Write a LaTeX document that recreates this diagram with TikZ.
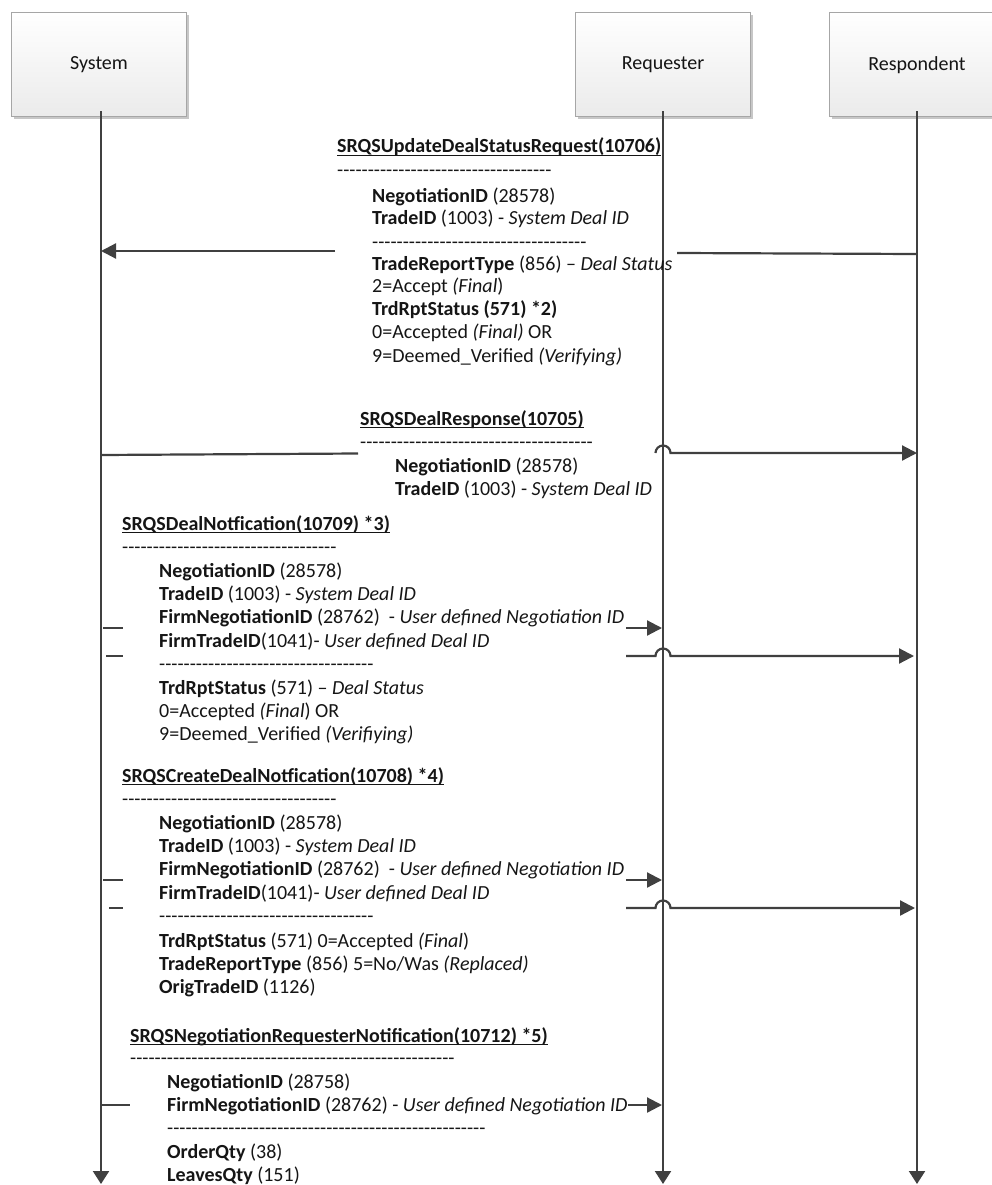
\documentclass[tikz,border=0pt]{standalone}
\usepackage{fontspec}
\setmainfont{Carlito}
\usetikzlibrary{arrows.meta,shadows}
\definecolor{ln}{HTML}{404040}
\definecolor{bx}{HTML}{A6A6A6}
\definecolor{tx}{HTML}{151515}
\newcount\hyc
\newcommand\hy[1]{\hyc=#1\relax\loop\hbox{-}\advance\hyc by -1\ifnum\hyc>0\repeat}
\newcommand\ulb[1]{\setbox0\hbox{\textbf{#1}}\rlap{\rule[-3.4pt]{\wd0}{1.3pt}}\box0}
\newcommand\fs{\fontsize{20}{23.6}\selectfont}
\begin{document}
\begin{tikzpicture}[x=1pt,y=-1pt,
  lbox/.style={draw=bx, line width=1pt, top color=white, bottom color=black!8,
    minimum width=175pt, minimum height=104pt, font=\fs, text=tx,
    drop shadow={shadow xshift=2.5pt, shadow yshift=-2.5pt, fill=black!22, opacity=1}},
  life/.style={draw=ln, line width=2.2pt, -{Triangle[length=13pt,width=16pt]}},
  msg/.style={draw=ln, line width=2.2pt},
  amsg/.style={msg, -{Triangle[length=15pt,width=15pt]}},
  txt/.style={anchor=base west, inner sep=0pt, font=\fs, text=tx}]
\useasboundingbox (0,0) rectangle (992,1185);
% participants
\node[lbox] (sys) at (99,65) {System};
\node[lbox] (req) at (663,65) {Requester};
\node[lbox] (res) at (917,65) {Respondent};
% lifelines
\coordinate (sysEnd) at (101,1184);
\coordinate (reqEnd) at (663,1184);
\coordinate (resEnd) at (917,1184);
\draw[life] (sys.south -| sysEnd) ++(0,-6) -- (sysEnd);
\draw[life] (req.south -| reqEnd) ++(0,-6) -- (reqEnd);
\draw[life] (res.south -| resEnd) ++(0,-6) -- (resEnd);

% ---------- block 1
\node[txt] (t1) at (337,153) {\ulb{SRQSUpdateDealStatusRequest(10706)}};
\node[txt] (t1a) at (337,177) {\hy{34}};
\node[txt] (t1b) at (372,202) {\textbf{NegotiationID} (28578)};
\node[txt] (t1c) at (372,224.5) {\textbf{TradeID} (1003) - \textit{System Deal ID}};
\node[txt] (t1d) at (372,248) {\hy{34}};
\node[txt] (t1e) at (372,270.5) {\textbf{TradeReportType} (856) – \textit{Deal Status}};
\node[txt] (t1f) at (372,292.5) {2=Accept \textit{(Final})};
\node[txt] (t1g) at (372,315.5) {\textbf{TrdRptStatus (571) *2)}};
\node[txt] (t1h) at (372,338.5) {0=Accepted \textit{(Final)} OR};
\node[txt] (t1i) at (372,362) {9=Deemed\_Verified \textit{(Verifying)}};
\coordinate (m1a) at (917,254);
\coordinate (m1b) at (677,253);
\coordinate (m1c) at (335,251);
\coordinate (m1d) at (101,251);
\draw[msg] (m1a) -- (m1b);
\draw[amsg] (m1c) -- (m1d);

% ---------- block 2
\node[txt] (t2) at (360,425) {\ulb{SRQSDealResponse(10705)}};
\node[txt] (t2a) at (360,448) {\hy{37}};
\node[txt] (t2b) at (395,472) {\textbf{NegotiationID} (28578)};
\node[txt] (t2c) at (395,495) {\textbf{TradeID} (1003) - \textit{System Deal ID}};
\coordinate (m2a) at (101,455);
\coordinate (m2b) at (358,453.5);
\coordinate (m2c) at (655.5,453);
\coordinate (m2d) at (917,453);
\draw[msg] (m2a) -- (m2b);
\draw[amsg] (m2c) arc[start angle=180, end angle=360, radius=7.5] -- (m2d);

% ---------- block 3
\node[txt] (t3) at (122,530) {\ulb{SRQSDealNotfication(10709) *3)}};
\node[txt] (t3a) at (122,553) {\hy{34}};
\node[txt] (t3b) at (159,577) {\textbf{NegotiationID} (28578)};
\node[txt] (t3c) at (159,600) {\textbf{TradeID} (1003) - \textit{System Deal ID}};
\node[txt] (t3d) at (159,623) {\textbf{FirmNegotiationID} (28762)\ \ - \textit{User defined Negotiation ID}};
\node[txt] (t3e) at (159,647) {\textbf{FirmTradeID}(1041)- \textit{User defined Deal ID}};
\node[txt] (t3f) at (159,670) {\hy{34}};
\node[txt] (t3g) at (159,694) {\textbf{TrdRptStatus} (571) – \textit{Deal Status}};
\node[txt] (t3h) at (159,717) {0=Accepted \textit{(Final}) OR};
\node[txt] (t3i) at (159,740) {9=Deemed\_Verified \textit{(Verifiying)}};
\coordinate (m3a) at (103,628);
\coordinate (m3b) at (123,628);
\coordinate (m3c) at (626,628);
\coordinate (m3d) at (662,628);
\draw[msg] (m3a) -- (m3b);
\draw[amsg] (m3c) -- (m3d);
\coordinate (m3e) at (106,656);
\coordinate (m3f) at (123,656);
\coordinate (m3g) at (626,656);
\coordinate (m3h) at (655.5,656);
\coordinate (m3i) at (914,656);
\draw[msg] (m3e) -- (m3f);
\draw[amsg] (m3g) -- (m3h) arc[start angle=180, end angle=360, radius=7.5] -- (m3i);

% ---------- block 4
\node[txt] (t4) at (122,782) {\ulb{SRQSCreateDealNotfication(10708) *4)}};
\node[txt] (t4a) at (122,805) {\hy{34}};
\node[txt] (t4b) at (159,829) {\textbf{NegotiationID} (28578)};
\node[txt] (t4c) at (159,852) {\textbf{TradeID} (1003) - \textit{System Deal ID}};
\node[txt] (t4d) at (159,875) {\textbf{FirmNegotiationID} (28762)\ \ - \textit{User defined Negotiation ID}};
\node[txt] (t4e) at (159,899) {\textbf{FirmTradeID}(1041)- \textit{User defined Deal ID}};
\node[txt] (t4f) at (159,922) {\hy{34}};
\node[txt] (t4g) at (159,947) {\textbf{TrdRptStatus} (571) 0=Accepted \textit{(Final})};
\node[txt] (t4h) at (159,970) {\textbf{TradeReportType} (856) 5=No/Was \textit{(Replaced)}};
\node[txt] (t4i) at (159,993) {\textbf{OrigTradeID} (1126)};
\coordinate (m4a) at (103,880);
\coordinate (m4b) at (123,880);
\coordinate (m4c) at (626,880);
\coordinate (m4d) at (662,880);
\draw[msg] (m4a) -- (m4b);
\draw[amsg] (m4c) -- (m4d);
\coordinate (m4e) at (109,908);
\coordinate (m4f) at (123,908);
\coordinate (m4g) at (626,908);
\coordinate (m4h) at (655.5,908);
\coordinate (m4i) at (915,908);
\draw[msg] (m4e) -- (m4f);
\draw[amsg] (m4g) -- (m4h) arc[start angle=180, end angle=360, radius=7.5] -- (m4i);

% ---------- block 5
\node[txt] (t5) at (130,1042) {\ulb{SRQSNegotiationRequesterNotification(10712) *5)}};
\node[txt] (t5a) at (130,1064) {\hy{52}};
\node[txt] (t5b) at (167,1088) {\textbf{NegotiationID} (28758)};
\node[txt] (t5c) at (167,1111) {\textbf{FirmNegotiationID} (28762) - \textit{User defined Negotiation ID}};
\node[txt] (t5d) at (167,1134) {\hy{51}};
\node[txt] (t5e) at (167,1158) {\textbf{OrderQty} (38)};
\node[txt] (t5f) at (167,1181) {\textbf{LeavesQty} (151)};
\coordinate (m5a) at (101,1105);
\coordinate (m5b) at (130,1105);
\coordinate (m5c) at (628,1105);
\coordinate (m5d) at (662,1105);
\draw[msg] (m5a) -- (m5b);
\draw[amsg] (m5c) -- (m5d);
\end{tikzpicture}
\end{document}
